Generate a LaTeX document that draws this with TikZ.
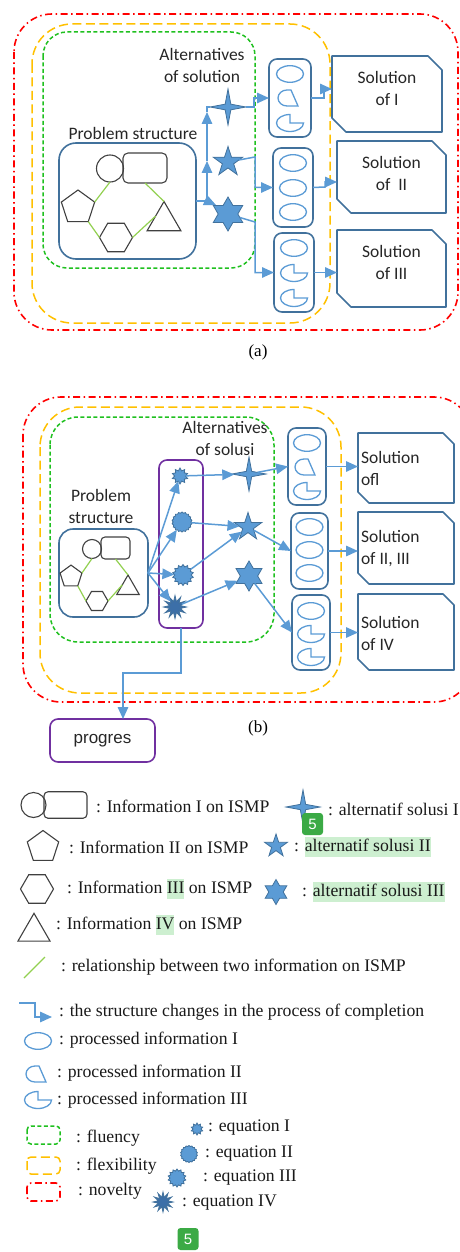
\documentclass[tikz,border=0pt]{standalone}
\usepackage{fontspec}
\setmainfont{Liberation Serif}
\newfontfamily\calib{Carlito}
\newfontfamily\arialf{Liberation Sans}
\usetikzlibrary{shapes.geometric,arrows.meta}

\definecolor{boxblue}{HTML}{41719C}
\definecolor{arrblue}{HTML}{5B9BD5}
\definecolor{darkstar}{HTML}{3C6FA8}
\definecolor{flu}{HTML}{1FC01F}
\definecolor{flex}{HTML}{FFC000}
\definecolor{nov}{HTML}{FF0000}
\definecolor{purp}{HTML}{7030A0}
\definecolor{rel}{HTML}{92D050}
\definecolor{hlg}{HTML}{CDEFD0}
\definecolor{badgegreen}{HTML}{3BAA45}

\newcommand\hlt[1]{{\fboxsep=0pt\colorbox{hlg}{\rule[-5pt]{0pt}{19.5pt}#1}}}
\newcommand\snipbox[2]{%
  \draw[draw=boxblue, line width=1.6pt, line join=round]
    (#1.north west) -- ([xshift=-#2]#1.north east) -- ([yshift=-#2]#1.north east)
    -- (#1.south east) -- ([xshift=#2]#1.south west) -- ([yshift=#2]#1.south west) -- cycle;}

\tikzset{
  every node/.style={inner sep=0pt, outer sep=0pt},
  bluebox/.style={rectangle, draw=boxblue, line width=1.6pt, rounded corners=#1},
  bluebox/.default=8pt,
  purplebox/.style={rectangle, draw=purp, line width=1.6pt, rounded corners=8pt},
  geo/.style={draw=black!75, line width=1.1pt},
  relation/.style={draw=rel, line width=1.2pt},
  flow/.style={draw=arrblue, line width=1.5pt},
  arrowed/.style={-{Triangle[length=12pt,width=10.5pt]}},
  fluency/.style={draw=flu, line width=1.5pt, dash pattern=on 4pt off 2.5pt, rounded corners=#1},
  flexibility/.style={draw=flex, line width=1.5pt, dash pattern=on 9pt off 4.5pt, rounded corners=#1},
  novelty/.style={draw=nov, line width=1.6pt, dash pattern=on 7pt off 3.5pt on 1.5pt off 3.5pt, rounded corners=#1},
  starbase/.style={star, draw=boxblue, fill=arrblue, line width=0.8pt},
  alt4/.style={starbase, star points=4, star point ratio=4.5, minimum size=#1},
  alt5/.style={starbase, star points=5, star point ratio=2.6, minimum size=#1},
  alt6/.style={starbase, star points=6, star point ratio=1.73, minimum size=#1},
  eqA/.style={starbase, star points=10, star point ratio=1.5, minimum size=#1},
  eqB/.style={starbase, star points=18, star point ratio=1.12, minimum size=#1},
  eqC/.style={starbase, star points=14, star point ratio=1.28, minimum size=#1},
  eqD/.style={starbase, fill=darkstar, star points=12, star point ratio=2.1, minimum size=#1},
  procline/.style={draw=arrblue, line width=1.3pt},
  calibt/.style={font=\calib\fontsize{17.5}{22}\selectfont, text=black!85, align=center},
  legtext/.style={font=\fontsize{17.7}{20}\selectfont, anchor=west, text=black!90},
  badge/.style={fill=badgegreen, rounded corners=3pt, minimum width=21pt, minimum height=22pt,
    text=white, font=\arialf\fontsize{15}{15}\selectfont},
  pics/procI/.style={code={\draw[procline] (0,0) ellipse [x radius=13.5, y radius=8.3];}},
  pics/procII/.style={code={\draw[procline] (-1,-8) arc [start angle=270, end angle=90, x radius=9, y radius=8] -- (10,8) -- (3,-8) -- cycle;}},
  pics/procIII/.style={code={\draw[procline] (0,0) -- (0,-8.5) arc [start angle=270, end angle=0, x radius=13.5, y radius=8.5] -- cycle;}},
}

\begin{document}
\begin{tikzpicture}[x=1pt,y=-1pt]
\useasboundingbox (0,0) rectangle (460,1252);
\clip (0,0) rectangle (460,1252);

% ================= panel (a) =================
\draw[novelty=38pt] (14,14) rectangle (458,330);
\draw[flexibility=40pt] (32,24) rectangle (330,323);
\draw[fluency=24pt] (43,32) rectangle (255,268);

\node[calibt] (altA) at (202,65.5) {Alternatives\\of solution};
\node[calibt] (probA) at (133,133) {Problem structure};

% problem structure
\node[bluebox=17pt, minimum width=137pt, minimum height=116pt] (psA) at (127.5,201) {};
\node[geo, circle, minimum size=27pt] (cA) at (110,168.5) {};
\node[geo, rectangle, rounded corners=5pt, minimum width=44pt, minimum height=30pt] (rA) at (145,168) {};
\node[geo, regular polygon, regular polygon sides=5, minimum size=35pt] (pA) at (78,207.5) {};
\node[geo, regular polygon, regular polygon sides=6, minimum size=33pt] (hA) at (116,237.5) {};
\node[geo, regular polygon, regular polygon sides=3, minimum size=39pt] (tA) at (164,221) {};
\draw[relation] (cA.south) -- (pA.18);
\draw[relation] (rA.south) -- (tA.90);
\draw[relation] (pA.-54) -- (hA.180);
\draw[relation] (hA.0) -- (tA.150);

% alternatives
\node[alt4=36pt] (s4A) at (228,107) {};
\node[alt5=31pt] (s5A) at (228,162) {};
\node[alt6=34pt] (s6A) at (228,214) {};

\coordinate (ja) at (207,201);
\coordinate (jb) at (207,161);
\coordinate (jc) at (207,112);
\coordinate (jd) at (216,205);
\draw[flow] (psA.east) -- (ja);
\draw[flow,arrowed] (ja) -- (jb);
\draw[flow,arrowed] (jb) -- (jc);
\draw[flow] (jc) |- (s4A);
\draw[flow,arrowed] (ja) -- (jd);

% processed information
\node[bluebox, minimum width=42pt, minimum height=78pt] (paA) at (290,98) {};
\node[bluebox, minimum width=40pt, minimum height=79pt] (pbA) at (293,187.5) {};
\node[bluebox, minimum width=40pt, minimum height=79pt] (pcA) at (294,272.5) {};
\pic at (290,74) {procI};
\pic at (288,98) {procII};
\pic at (290,123) {procIII};
\pic at (293,163) {procI};
\pic at (293,188) {procI};
\pic at (293,212) {procI};
\pic at (294,248) {procI};
\pic at (294,273) {procIII};
\pic at (294,298) {procIII};

\coordinate (k1) at (254,107);
\coordinate (k2) at (255,157);
\coordinate (k3) at (255,222);
\draw[flow,arrowed] (s4A) -- (k1) |- (paA.west);
\draw[flow,arrowed] (s5A) -- (k2) |- (pbA.west);
\draw[flow,arrowed] (s6A) -- (k3) |- (pcA.west);

% solutions
\node[minimum width=110pt, minimum height=76pt] (solA1) at (387,94) {};
\node[minimum width=109pt, minimum height=72pt] (solA2) at (391.5,177) {};
\node[minimum width=109pt, minimum height=77pt] (solA3) at (391.5,268.5) {};
\snipbox{solA1}{14pt}
\snipbox{solA2}{14pt}
\snipbox{solA3}{14pt}
\node[calibt] (tA1) at (387,88.5) {Solution\\of I};
\node[calibt] (tA2) at (391.5,173.5) {Solution\\of~~II};
\node[calibt] (tA3) at (391.5,262.5) {Solution\\of III};

\coordinate (m1) at (324,98);
\coordinate (m2) at (325,187);
\draw[flow,arrowed] (paA.east) -- (m1) |- ([yshift=5pt]solA1.west);
\draw[flow,arrowed] (pbA.east) -- (m2) |- ([yshift=-5pt]solA2.west);
\draw[flow,arrowed] (pcA.east) -- (pcA.east -| solA3.west);

\node[font=\fontsize{17}{20}\selectfont] (capA) at (258,352) {(a)};

% ================= panel (b) =================
\draw[novelty=38pt] (23,397) rectangle (472,702);
\draw[flexibility=40pt] (40,407) rectangle (341,693);
\draw[fluency=28pt] (50,417) rectangle (274,642);

\node[calibt] (altB) at (225,438.5) {Alternatives\\of solusi};
\node[calibt] (probB) at (101,506) {Problem\\structure};

\node[bluebox=14pt, minimum width=89pt, minimum height=88pt] (psB) at (103.5,573) {};
\node[geo, circle, minimum size=19pt] (cB) at (92,549) {};
\node[geo, rectangle, rounded corners=4pt, minimum width=29pt, minimum height=22pt] (rB) at (115.5,548) {};
\node[geo, regular polygon, regular polygon sides=5, minimum size=23pt] (pB) at (71,576.6) {};
\node[geo, regular polygon, regular polygon sides=6, minimum size=22pt] (hB) at (97,601) {};
\node[geo, regular polygon, regular polygon sides=3, minimum size=26pt] (tB) at (128,588) {};
\draw[relation] (cB.south) -- (pB.18);
\draw[relation] (rB.south) -- (tB.90);
\draw[relation] (pB.-54) -- (hB.180);
\draw[relation] (hB.0) -- (tB.150);

% equations
\node[purplebox, minimum width=44pt, minimum height=168pt] (eqbox) at (181,544) {};
\node[eqA=16pt] (e1) at (180,476) {};
\node[eqB=20pt] (e2) at (182,522) {};
\node[eqC=21pt] (e3) at (183,575) {};
\node[eqD=23pt] (e4) at (175,607) {};

\node[alt4=34pt] (s4B) at (249,474) {};
\node[alt5=29pt] (s5B) at (248,527) {};
\node[alt6=30pt] (s6B) at (249,576) {};

\draw[flow,arrowed] (psB.east) -- (e1);
\draw[flow,arrowed] (psB.east) -- (e2);
\draw[flow,arrowed] (psB.east) -- (e3);
\draw[flow,arrowed] (psB.east) -- (e4);
\draw[flow,arrowed] (e1) -- (s4B);
\draw[flow,arrowed] (e2) -- (s5B);
\draw[flow,arrowed] (e3) -- (s5B);
\draw[flow,arrowed] (e4) -- (s6B);

\node[bluebox, minimum width=38pt, minimum height=77pt] (paB) at (307,466.5) {};
\node[bluebox, minimum width=37pt, minimum height=76pt] (pbB) at (309.5,551) {};
\node[bluebox, minimum width=38pt, minimum height=75pt] (pcB) at (311,632.5) {};
\pic at (307,443) {procI};
\pic at (305,467) {procII};
\pic at (307,491) {procIII};
\pic at (309.5,527) {procI};
\pic at (309.5,550) {procI};
\pic at (309.5,573) {procI};
\pic at (311,611) {procI};
\pic at (311,634) {procIII};
\pic at (311,657) {procIII};

\draw[flow,arrowed] (s4B) -- (paB.west);
\draw[flow,arrowed] (s5B) -- (pbB.west);
\draw[flow,arrowed] (s6B) -- (pcB.west);

\node[minimum width=96pt, minimum height=70pt] (solB1) at (406,468) {};
\node[minimum width=96pt, minimum height=72pt] (solB2) at (406,548) {};
\node[minimum width=96pt, minimum height=76pt] (solB3) at (406,632) {};
\snipbox{solB1}{11pt}
\snipbox{solB2}{11pt}
\snipbox{solB3}{11pt}
\node[calibt, align=left, anchor=west] (tB1) at (361,468.5) {Solution\\ofl};
\node[calibt, align=left, anchor=west] (tB2) at (361,548.5) {Solution\\of II, III};
\node[calibt, align=left, anchor=west] (tB3) at (361,633) {Solution\\of IV};

\draw[flow,arrowed] (paB.east) -- (paB.east -| solB1.west);
\draw[flow,arrowed] (pbB.east) -- (pbB.east -| solB2.west);
\draw[flow,arrowed] (pcB.east) -- (pcB.east -| solB3.west);

% progress
\node[purplebox, minimum width=105pt, minimum height=43pt, font=\arialf\fontsize{17}{20}\selectfont, text=black!85] (prog) at (102.5,740.5) {progres};
\coordinate (kp) at (123,673);
\draw[flow,arrowed] (eqbox.south) |- (kp) -- (kp |- prog.north);

\node[font=\fontsize{17}{20}\selectfont] (capB) at (258,728) {(b)};

% ================= legend =================
\node[geo, circle, minimum size=25pt] (lc) at (33.5,805) {};
\node[geo, rectangle, rounded corners=4pt, minimum width=43pt, minimum height=26.5pt] (lr) at (65.5,805) {};
\node[legtext] (lt1) at (96,806) {: Information I on ISMP};

\node[geo, regular polygon, regular polygon sides=5, minimum size=33pt] (lp) at (43,847) {};
\node[legtext] (lt2) at (69,847) {: Information II on ISMP};

\node[geo, regular polygon, regular polygon sides=6, minimum size=33pt] (lh) at (37,889) {};
\node[legtext] (lt3) at (67,889) {: Information \hlt{III} on ISMP};

\node[geo, regular polygon, regular polygon sides=3, minimum size=37pt] (ltr) at (34,931.8) {};
\node[legtext] (lt4) at (56,925) {: Information \hlt{IV} on ISMP};

\node[alt4=34pt] (ls4) at (303,807) {};
\node[legtext] (la1) at (328,809.5) {: alternatif solusi I};
\node[alt5=24pt] (ls5) at (276,846) {};
\node[legtext] (la2) at (294,847) {: \hlt{alternatif solusi II}};
\node[alt6=25pt] (ls6) at (276,892) {};
\node[legtext] (la3) at (302,892) {: \hlt{alternatif solusi III}};
\node[badge] (bdg1) at (312.5,824) {5};

\coordinate (lrel1) at (24,978);
\coordinate (lrel2) at (45,957);
\draw[relation] (lrel1) -- (lrel2);
\node[legtext] (lt5) at (61,967) {: relationship between two information on ISMP};

\coordinate (lar1) at (19,1003);
\coordinate (lar2) at (35,1003);
\coordinate (lar3) at (52,1017);
\draw[flow,arrowed] (lar1) -- (lar2) |- (lar3);
\node[legtext] (lt6) at (59,1012) {: the structure changes in the process of completion};

\pic at (38,1041) {procI};
\node[legtext] (lt7) at (59,1040) {: processed information I};
\pic at (36,1074) {procII};
\node[legtext] (lt8) at (57,1073) {: processed information II};
\pic at (38,1100) {procIII};
\node[legtext] (lt9) at (57,1100) {: processed information III};

\draw[fluency=4pt] (27,1126) rectangle (60,1144);
\node[legtext] (lt10) at (76,1138) {: fluency};
\draw[flexibility=4pt] (27,1157) rectangle (60,1174);
\node[legtext] (lt11) at (76,1166) {: flexibility};
\draw[novelty=4pt] (27,1183) rectangle (60,1201);
\node[legtext] (lt12) at (78,1191) {: novelty};

\node[eqA=12pt] (le1) at (197,1129) {};
\node[legtext] (lq1) at (208,1128) {: equation I};
\node[eqB=17pt] (le2) at (189,1154) {};
\node[legtext] (lq2) at (205,1154) {: equation II};
\node[eqC=18pt] (le3) at (177,1178) {};
\node[legtext] (lq3) at (203,1178) {: equation III};
\node[eqD=20pt] (le4) at (163,1202) {};
\node[legtext] (lq4) at (182,1203) {: equation IV};

\node[badge] (bdg2) at (188,1239) {5};
\end{tikzpicture}
\end{document}
